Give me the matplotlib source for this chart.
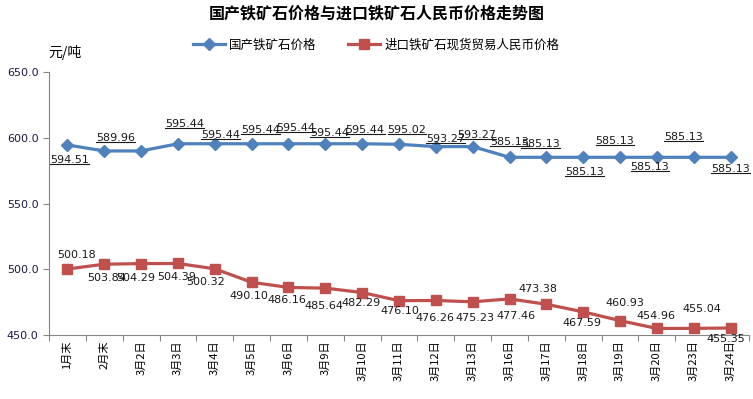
import matplotlib
matplotlib.use('Agg')
import matplotlib.pyplot as plt
import numpy as np
from matplotlib.lines import Line2D

plt.rcParams['font.family'] = ['Noto Sans CJK SC', 'DejaVu Sans']

# ---- data ----
dates = ['1月末', '2月末', '3月2日', '3月3日', '3月4日', '3月5日', '3月6日', '3月9日',
         '3月10日', '3月11日', '3月12日', '3月13日', '3月16日', '3月17日', '3月18日',
         '3月19日', '3月20日', '3月23日', '3月24日']
domestic = [594.51, 589.96, 589.96, 595.44, 595.44, 595.44, 595.44, 595.44, 595.44,
            595.02, 593.27, 593.27, 585.13, 585.13, 585.13, 585.13, 585.13, 585.13, 585.13]
imported = [500.18, 503.84, 504.29, 504.39, 500.32, 490.10, 486.16, 485.64, 482.29,
            476.10, 476.26, 475.23, 477.46, 473.38, 467.59, 460.93, 454.96, 455.04, 455.35]
series_names = ['国产铁矿石价格', '进口铁矿石现货贸易人民币价格']

# label offsets in pixels (dx, dy); None = no label
dom_off = [(2, -15), (11, 13), None, (7, 20), (6, 9), (9, 14), (7, 16), (4, 11), (3, 14),
           (8, 14), (10, 8), (4, 12), (0, 15), (-6, 13), (1, -15), (-5, 16), (-7, -10),
           (-10, 20), (0, -12)]
imp_off = [(9, 14), (2, -14), (-5, -14), (-1, -14), (-9, -13), (-3, -14), (-2, -13),
           (-1, -18), (-1, -10), (1, -10), (-1, -18), (2, -16), (6, -17), (-8, 15),
           (-1, -11), (5, 18), (-1, 12), (8, 19), (-5, -11)]

blue = '#4F81BD'
red = '#C0504D'
axis_gray = '#868686'

fig = plt.figure(figsize=(7.53, 3.99), dpi=100)
ax = fig.add_axes([49 / 753, 64 / 399, 700 / 753, 263 / 399])

x = np.arange(len(dates))
ax.plot(x, domestic, color=blue, lw=2.3, marker='D', ms=6, label=series_names[0])
ax.plot(x, imported, color=red, lw=2.3, marker='s', ms=7, label=series_names[1])

ax.set_xlim(-0.5, len(dates) - 0.5)
ax.set_ylim(450, 650)
ax.set_yticks([450, 500, 550, 600, 650])
ax.set_yticklabels([f'{v:.1f}' for v in [450, 500, 550, 600, 650]],
                   fontsize=8, family='DejaVu Sans', color='#1a1a40')

ax.set_xticks(np.arange(-0.5, len(dates), 1))
ax.set_xticklabels([])
ax.set_xticks(x, minor=True)
ax.set_xticklabels(dates, minor=True, rotation=90, fontsize=8)
ax.tick_params(axis='x', which='major', length=4, color=axis_gray, direction='out')
ax.tick_params(axis='x', which='minor', length=0, pad=4)
ax.tick_params(axis='y', length=4, color=axis_gray, direction='out')

for s in ['top', 'right']:
    ax.spines[s].set_visible(False)
for s in ['left', 'bottom']:
    ax.spines[s].set_color(axis_gray)

dom_texts = []
for i, v in enumerate(domestic):
    if dom_off[i] is None:
        continue
    t = ax.annotate(f'{v:.2f}', (i, v), xytext=dom_off[i], textcoords='offset pixels',
                    ha='center', va='center', fontsize=8, family='DejaVu Sans',
                    color='#1a1a1a')
    dom_texts.append(t)

for i, v in enumerate(imported):
    ax.annotate(f'{v:.2f}', (i, v), xytext=imp_off[i], textcoords='offset pixels',
                ha='center', va='center', fontsize=8, family='DejaVu Sans',
                color='#1a1a1a')

fig.text(0.5, 0.965, '国产铁矿石价格与进口铁矿石人民币价格走势图', ha='center', va='center',
         fontsize=11.5, fontweight='bold')
fig.text(48 / 753, 1 - 52 / 399, '元/吨', ha='left', va='center', fontsize=10)

fig.legend(loc='center', bbox_to_anchor=(376 / 753, 1 - 45 / 399), ncol=2, frameon=False,
           fontsize=9, handlelength=2.6, columnspacing=2.5, handletextpad=0.3)

# underline the domestic labels
fig.canvas.draw()
renderer = fig.canvas.get_renderer()
inv = fig.transFigure.inverted()
for t in dom_texts:
    bb = t.get_window_extent(renderer)
    (x0, y0), (x1, _) = inv.transform([(bb.x0, bb.y0 + 1), (bb.x1, bb.y0 + 1)])
    fig.add_artist(Line2D([x0, x1], [y0, y0], transform=fig.transFigure,
                          color='#1a1a1a', lw=0.8))

fig.savefig('out.png', dpi=100)
